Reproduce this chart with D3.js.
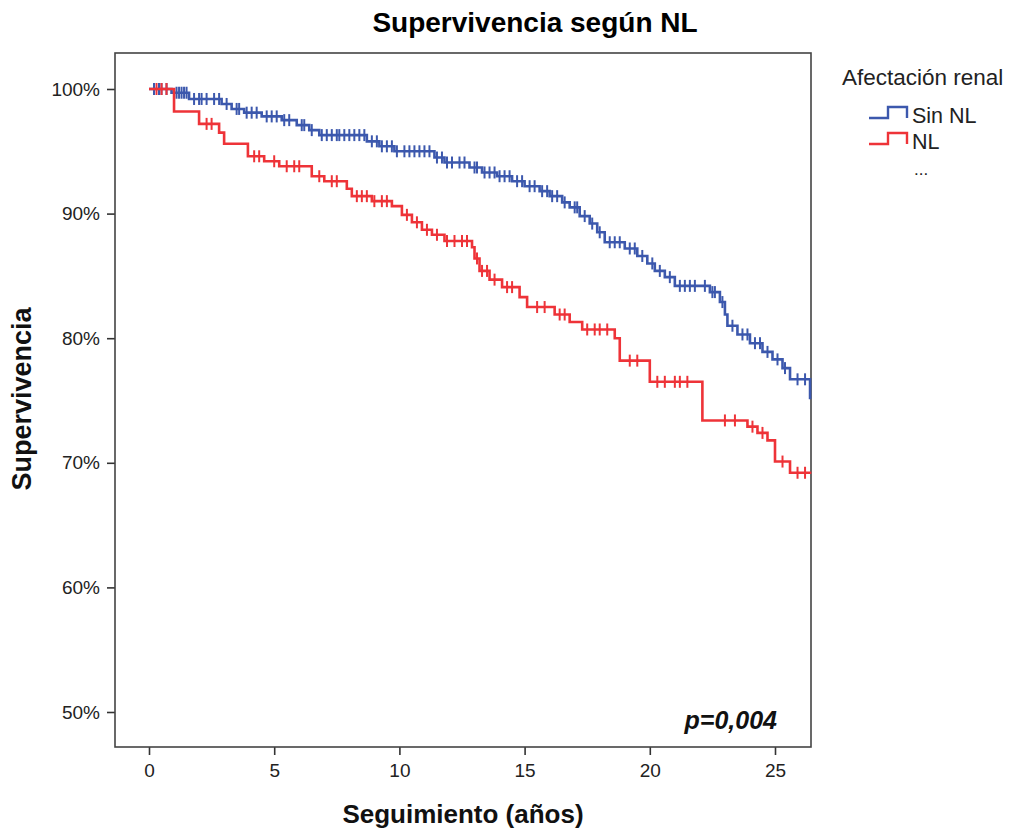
<!DOCTYPE html>
<html>
<head>
<meta charset="utf-8">
<script src="https://cdn.jsdelivr.net/npm/d3@7"></script>
<style>
  body { margin: 0; background: #fff; }
  svg { display: block; font-family: "Liberation Sans", Arial, sans-serif; }
</style>
</head>
<body>
<div id="chart"></div>
<script>
// Kaplan-Meier: supervivencia según NL

const groups = ['Sin NL', 'NL'];
const colors = ['#3c58ad', '#ee3338'];

// step times (años) and survival (%) after each drop
const sinNlTimes = [0, 0.9, 1.6, 2.9, 3.3, 3.8, 4.5, 5.3, 5.9, 6.4, 6.8, 8.7, 9.2, 9.8, 11.4, 11.8, 12.8, 13.3, 13.9, 14.5, 15.0, 15.6, 16.0, 16.5, 16.8, 17.2, 17.6, 17.9, 18.2, 19.0, 19.5, 19.9, 20.2, 20.6, 21.0, 22.4, 22.8, 23.0, 23.1, 23.5, 24.0, 24.5, 24.9, 25.3, 25.6, 26.4];
const sinNlSurv  = [100, 99.7, 99.2, 98.8, 98.4, 98.1, 97.8, 97.5, 97.1, 96.7, 96.3, 95.8, 95.4, 95.0, 94.5, 94.1, 93.7, 93.3, 93.0, 92.6, 92.2, 91.8, 91.4, 90.9, 90.5, 89.8, 89.2, 88.5, 87.7, 87.2, 86.6, 86.0, 85.4, 84.9, 84.2, 83.7, 82.9, 81.9, 81.0, 80.3, 79.6, 78.9, 78.3, 77.6, 76.7, 75.2];
const nlTimes = [0, 1.0, 2.0, 2.8, 3.0, 3.95, 4.6, 5.2, 6.5, 7.0, 7.9, 8.1, 8.9, 9.7, 10.1, 10.5, 10.9, 11.3, 11.8, 12.9, 13.0, 13.2, 13.6, 14.1, 14.8, 15.1, 16.2, 16.8, 17.3, 18.6, 18.8, 20.0, 22.1, 23.9, 24.3, 24.7, 25.0, 25.6];
const nlSurv  = [100, 98.2, 97.2, 96.5, 95.6, 94.6, 94.2, 93.8, 93.0, 92.6, 92.0, 91.4, 91.0, 90.6, 89.9, 89.3, 88.7, 88.3, 87.8, 87.3, 86.4, 85.4, 84.7, 84.1, 83.3, 82.5, 81.9, 81.3, 80.7, 80.0, 78.2, 76.5, 73.4, 72.9, 72.4, 71.8, 70.1, 69.2];

// censored observations (años)
const sinNlCensor = [0.2, 0.4, 0.5, 0.7, 1.1, 1.2, 1.3, 1.4, 1.5, 1.8, 2.0, 2.1, 2.3, 2.6, 2.8, 3.1, 3.5, 3.6, 3.9, 4.1, 4.3, 4.7, 4.9, 5.1, 5.4, 5.6, 6.1, 6.2, 6.5, 6.9, 7.1, 7.3, 7.5, 7.6, 7.8, 8.0, 8.2, 8.4, 8.6, 8.9, 9.1, 9.3, 9.5, 9.7, 9.9, 10.2, 10.4, 10.6, 10.8, 11.0, 11.2, 11.5, 11.7, 11.9, 12.1, 12.4, 12.6, 13.0, 13.1, 13.4, 13.6, 13.8, 14.0, 14.2, 14.4, 14.7, 14.9, 15.2, 15.4, 15.7, 15.9, 16.1, 16.3, 16.6, 17.0, 17.1, 17.4, 17.7, 18.0, 18.4, 18.6, 18.8, 19.2, 19.4, 19.7, 20.1, 20.4, 20.8, 21.2, 21.4, 21.6, 21.8, 22.2, 22.5, 22.6, 22.9, 23.3, 23.7, 23.9, 24.2, 24.4, 24.7, 25.1, 25.4, 25.9, 26.2];
const nlCensor = [0.3, 0.5, 0.7, 2.3, 2.5, 4.2, 4.4, 5.0, 5.5, 5.8, 6.0, 6.8, 7.3, 7.5, 8.3, 8.5, 8.7, 9.0, 9.3, 9.5, 10.3, 10.7, 11.1, 11.5, 11.9, 12.2, 12.5, 12.7, 13.1, 13.3, 13.5, 13.8, 14.3, 14.5, 15.5, 15.8, 16.4, 16.6, 17.5, 17.8, 18.0, 18.3, 19.2, 19.5, 20.3, 20.6, 21.0, 21.2, 21.5, 23.0, 23.4, 24.1, 24.5, 25.3, 25.9, 26.2];

const followUpEnd = 26.45;
const xTicks = [0, 5, 10, 15, 20, 25];
const yTicks = [50, 60, 70, 80, 90, 100];

const series = [
  { name: groups[0], color: colors[0], times: sinNlTimes, surv: sinNlSurv, censor: sinNlCensor },
  { name: groups[1], color: colors[1], times: nlTimes, surv: nlSurv, censor: nlCensor },
];

const W = 1011, H = 834;
const frame = { left: 115, right: 811, top: 53, bottom: 747 };

const x = d3.scaleLinear().domain([0, 25]).range([149, 775]);
const y = d3.scaleLinear().domain([50, 100]).range([712, 89]);

const svg = d3.select('#chart').append('svg').attr('width', W).attr('height', H);

// title
svg.append('text')
  .attr('x', 535).attr('y', 32)
  .attr('text-anchor', 'middle')
  .attr('font-size', 28).attr('font-weight', 'bold').attr('fill', '#000')
  .text('Supervivencia según NL');

// axes
const xAxis = svg.append('g')
  .attr('transform', `translate(0,${frame.bottom})`)
  .call(d3.axisBottom(x).tickValues(xTicks).tickSize(8).tickPadding(9).tickSizeOuter(0));
const yAxis = svg.append('g')
  .attr('transform', `translate(${frame.left},0)`)
  .call(d3.axisLeft(y).tickValues(yTicks).tickSize(8).tickPadding(7).tickFormat(d => d + '%'));
[xAxis, yAxis].forEach(a => {
  a.select('.domain').remove();
  a.selectAll('.tick line').attr('stroke', '#333').attr('stroke-width', 1.6);
  a.selectAll('.tick text').attr('font-size', 19).attr('fill', '#222')
    .attr('font-family', '"Liberation Sans", Arial, sans-serif');
});

// frame
svg.append('rect')
  .attr('x', frame.left).attr('y', frame.top)
  .attr('width', frame.right - frame.left).attr('height', frame.bottom - frame.top)
  .attr('fill', 'none').attr('stroke', '#444').attr('stroke-width', 1.6);

// axis titles
svg.append('text')
  .attr('x', 463).attr('y', 823)
  .attr('text-anchor', 'middle')
  .attr('font-size', 26).attr('font-weight', 'bold').attr('fill', '#111')
  .text('Seguimiento (años)');
svg.append('text')
  .attr('transform', 'translate(31,399) rotate(-90)')
  .attr('text-anchor', 'middle')
  .attr('font-size', 27).attr('font-weight', 'bold').attr('fill', '#111')
  .text('Supervivencia');

// survival at time t from step function
function survAt(s, t) {
  let v = s.surv[0];
  for (let i = 0; i < s.times.length; i++) {
    if (s.times[i] <= t) v = s.surv[i];
  }
  return v;
}

const line = d3.line()
  .x(d => x(d[0]))
  .y(d => y(d[1]))
  .curve(d3.curveStepAfter);

const plot = svg.append('g');

series.forEach(s => {
  const pts = s.times.map((t, i) => [t, s.surv[i]]);
  pts.push([followUpEnd, s.surv[s.surv.length - 1]]);

  plot.append('path')
    .datum(pts)
    .attr('d', line)
    .attr('fill', 'none')
    .attr('stroke', s.color)
    .attr('stroke-width', 2.6);

  plot.selectAll(null)
    .data(s.censor)
    .enter()
    .append('line')
    .attr('x1', d => x(d)).attr('x2', d => x(d))
    .attr('y1', d => y(survAt(s, d)) - 6)
    .attr('y2', d => y(survAt(s, d)) + 6)
    .attr('stroke', s.color)
    .attr('stroke-width', 2);
});

// p value
svg.append('text')
  .attr('x', 777).attr('y', 729)
  .attr('text-anchor', 'end')
  .attr('font-size', 25).attr('font-weight', 'bold').attr('font-style', 'italic').attr('fill', '#111')
  .text('p=0,004');

// legend
const legend = svg.append('g');
legend.append('text')
  .attr('x', 842).attr('y', 85)
  .attr('font-size', 22.5).attr('fill', '#222')
  .text('Afectación renal');

series.forEach((s, i) => {
  const yy = 118 + i * 26;
  legend.append('path')
    .attr('d', `M869,${yy}H888V${yy - 11}H907V${yy}`)
    .attr('fill', 'none')
    .attr('stroke', s.color)
    .attr('stroke-width', 2.4);
  legend.append('text')
    .attr('x', 912).attr('y', yy + 5)
    .attr('font-size', 21.5).attr('fill', '#222')
    .text(s.name);
});
legend.append('text')
  .attr('x', 914).attr('y', 175)
  .attr('font-size', 17).attr('fill', '#222')
  .text('...');
</script>
</body>
</html>
